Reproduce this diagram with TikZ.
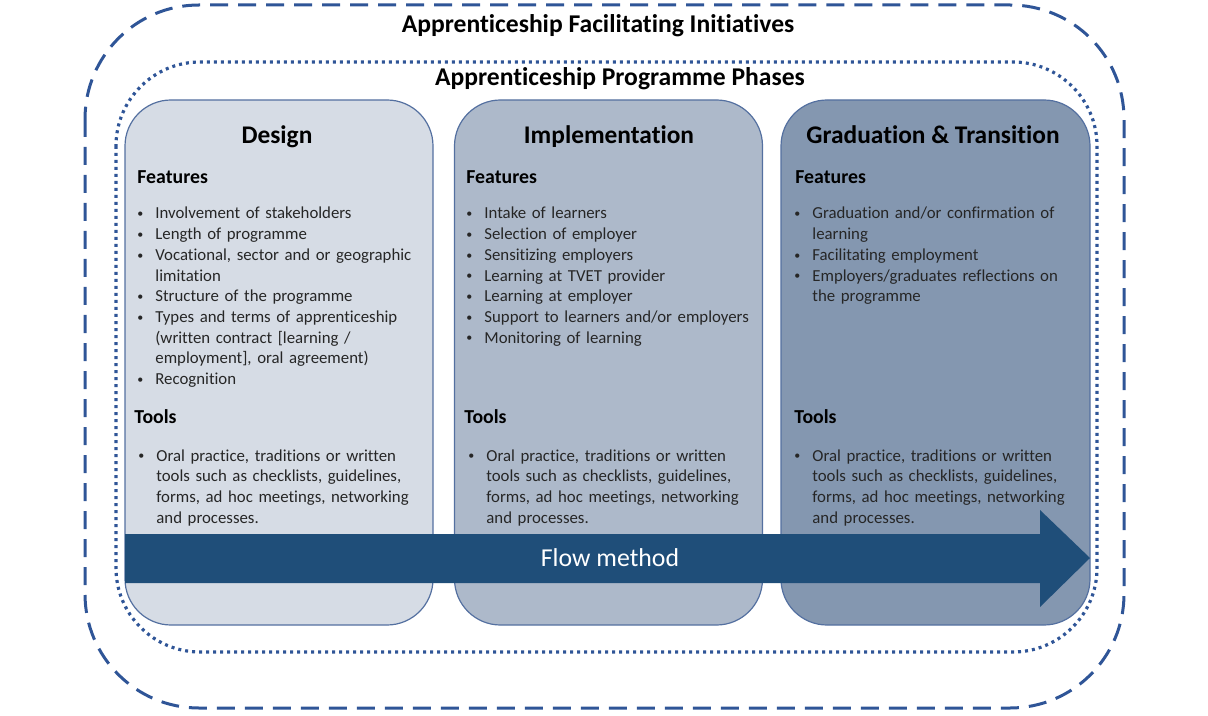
\documentclass[tikz,border=0pt]{standalone}
\usepackage{fontspec}
\setmainfont[Ligatures={NoCommon}]{Carlito}
\usetikzlibrary{positioning, calc}
\definecolor{frameblue}  {RGB}{47,  85, 151}
\definecolor{phaseline}  {RGB}{84, 112, 160}
\definecolor{designfill} {RGB}{214, 220, 229}
\definecolor{implfill}   {RGB}{173, 185, 202}
\definecolor{gradfill}   {RGB}{132, 151, 176}
\definecolor{flowblue}   {RGB}{31,  78, 121}
\definecolor{bodytext}   {RGB}{38,  38,  38}

\tikzset{
	phase/.style={draw=phaseline, line width=0.6pt, rounded corners=23pt,
		minimum width=154pt, minimum height=262.5pt, inner sep=0pt},
	maintitle/.style={anchor=base, inner sep=0pt, font=\fontsize{12.8}{15}\selectfont\bfseries},
	phasetitle/.style={anchor=base, inner sep=0pt, font=\fontsize{12.7}{15}\selectfont\bfseries},
	subhead/.style={anchor=base west, inner sep=0pt, font=\fontsize{9.9}{12}\selectfont\bfseries},
	bulletlist/.style={anchor=base west, inner sep=0pt, text width=152pt, align=left,
		text=bodytext, font=\fontsize{8.4}{10.35}\selectfont},
}
\newcommand\itm[1]{\noindent\hangindent=10pt\hangafter=1\makebox[10pt][l]{\kern1pt\raisebox{0.6pt}{\fontsize{6}{6}\selectfont\textbullet}}#1\par}

\begin{document}
\begin{tikzpicture}[x=0.5pt,y=-0.5pt]
	\useasboundingbox (0,0) rectangle (1208,716);
	\draw[frameblue, line width=1.5pt, dash pattern=on 9pt off 5pt, rounded corners=57pt] (85,5) rectangle (1124,708);
	\draw[frameblue, line width=1.6pt, dash pattern=on 1.5pt off 2pt, rounded corners=42pt] (116,62) rectangle (1097,652);
	\node[maintitle] (initiatives) at (598,33) {Apprenticeship Facilitating Initiatives};
	\node[maintitle] (phases) at (620,86) {Apprenticeship Programme Phases};

	\node[phase, fill=designfill] (design) at (279,362.5) {};
	\node[phase, fill=implfill] (impl) at (608.5,362.5) {};
	\node[phase, fill=gradfill, minimum width=154.5pt] (grad) at (935.5,362.5) {};

	\fill[flowblue] (125,534) -- (1040,534) -- (1040,510) -- (1090,558) -- (1040,607) -- (1040,583) -- (125,583) -- cycle;
	\node[text=white, font=\fontsize{12.9}{15}\selectfont] (flow) at (610,558) {Flow method};

	\node[phasetitle] (designtitle) at (277,144) {Design};
	\node[phasetitle] (impltitle) at (609,144) {Implementation};
	\node[phasetitle] (gradtitle) at (933,144) {Graduation \& Transition};

	\foreach \col/\x/\t in {design/137/134, impl/466/464, grad/795/794}{
		\node[subhead] (\col feat) at (\x,184) {Features};
		\node[subhead] (\col tools) at (\t,423) {Tools};
	}

	\node[bulletlist] (designlist) at (135,219) {\itm{Involvement of stakeholders}\itm{Length of programme}%
		\itm{Vocational, sector and or geographic\newline limitation}\itm{Structure of the programme}%
		\itm{Types and terms of apprenticeship\newline (written contract [learning /\newline employment], oral agreement)}%
		\itm{Recognition}};
	\node[bulletlist] (impllist) at (464,219) {\itm{Intake of learners}\itm{Selection of employer}%
		\itm{Sensitizing employers}\itm{Learning at TVET provider}\itm{Learning at employer}%
		\itm{Support to learners and/or employers}\itm{Monitoring of learning}};
	\node[bulletlist] (gradlist) at (792,219) {\itm{Graduation and/or confirmation of\newline learning}%
		\itm{Facilitating employment}\itm{Employers/graduates reflections on\newline the programme}};

	\foreach \col/\x in {design/136, impl/466, grad/792}{
		\node[bulletlist] (\col toollist) at (\x,461) {\itm{Oral practice, traditions or written\newline tools such as checklists, guidelines,\newline forms, ad hoc meetings, networking\newline and processes.}};
	}
\end{tikzpicture}
\end{document}
